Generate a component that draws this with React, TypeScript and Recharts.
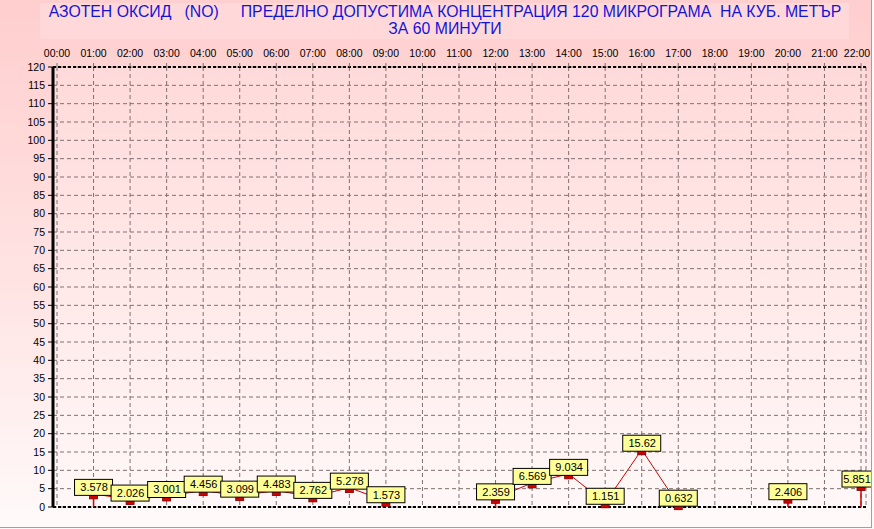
import {
  CartesianGrid,
  ErrorBar,
  LabelList,
  Line,
  LineChart,
  ReferenceLine,
  XAxis,
  YAxis,
} from "recharts";

const hourLabels = [
  "00:00", "01:00", "02:00", "03:00", "04:00", "05:00", "06:00", "07:00",
  "08:00", "09:00", "10:00", "11:00", "12:00", "13:00", "14:00", "15:00",
  "16:00", "17:00", "18:00", "19:00", "20:00", "21:00", "22:00",
];

// NO, µg/m3, hourly; null = no measurement
const noValues: (number | null)[] = [
  null, 3.578, 2.026, 3.001, 4.456, 3.099, 4.483, 2.762,
  5.278, 1.573, null, null, 2.359, 6.569, 9.034, 1.151,
  15.62, 0.632, null, null, 2.406, null, 5.851,
];

const yTicks = [
  0, 5, 10, 15, 20, 25, 30, 35, 40, 45, 50, 55, 60,
  65, 70, 75, 80, 85, 90, 95, 100, 105, 110, 115, 120,
];

// unlabeled comb on the y axis, one per unit
const yMinorTicks = Array.from({ length: 121 }, (_, i) => i);

const xTicks = hourLabels.map((_, i) => i);

// first point of every run gets a drop line down to zero
const data = hourLabels.map((label, i) => {
  const value = noValues[i];
  const prev = i > 0 ? noValues[i - 1] : null;
  return {
    hour: i,
    label,
    value,
    drop: value != null && prev == null ? [value, 0] : undefined,
  };
});

const CHART_W = 871;
const CHART_H = 527;
const font = "'Liberation Sans', Arial, sans-serif";
const TITLE_1 =
  "АЗОТЕН ОКСИД   (NO)     ПРЕДЕЛНО ДОПУСТИМА КОНЦЕНТРАЦИЯ 120 МИКРОГРАМА  НА КУБ. МЕТЪР";
const TITLE_2 = "ЗА 60 МИНУТИ";

function Marker(props: any) {
  const { cx, cy, value, index } = props;
  if (value == null || cx == null || cy == null) return <g key={index} />;
  return (
    <rect
      key={index}
      x={cx - 4}
      y={cy}
      width={8}
      height={5}
      fill="#d40000"
      stroke="#780000"
      strokeWidth={0.8}
    />
  );
}

function ValueBox(props: any) {
  const { x, y, value } = props;
  if (value == null || x == null || y == null) return null;
  const w = 38;
  const h = 16;
  const left = x - w / 2;
  // box is cut by the window edge, text stays inside what is left of it
  const right = Math.min(left + w, CHART_W);
  return (
    <g>
      <rect
        x={left}
        y={y - 14.5}
        width={w}
        height={h}
        fill="#ffff99"
        stroke="#000"
        strokeWidth={1}
      />
      <text
        x={(left + right) / 2 + 0.5}
        y={y - 2.5}
        textAnchor="middle"
        fontSize={11}
        fontFamily={font}
        fill="#000"
      >
        {String(value)}
      </text>
    </g>
  );
}

function HourTick(props: any) {
  const { x, y, payload } = props;
  const cx = Math.min(x, CHART_W - 14);
  return (
    <text x={cx} y={y} textAnchor="middle" fontSize={10.5} fontFamily={font} fill="#000">
      {hourLabels[payload.value]}
    </text>
  );
}

export default function App() {
  return (
    <div style={{ width: 874, height: 529, background: "#fafafa", position: "relative" }}>
      <style>{"body{margin:0}"}</style>
      <div
        style={{
          position: "absolute",
          left: 0,
          top: 0,
          width: CHART_W,
          height: CHART_H,
          overflow: "hidden",
          borderRight: "1px solid #a0a0a0",
          borderBottom: "1px solid #a0a0a0",
          background: "linear-gradient(to bottom, #ffcece 0%, #ffe4e4 55%, #fffafa 100%)",
        }}
      >
        <div
          style={{
            position: "absolute",
            left: 40,
            top: 3,
            width: 809,
            height: 36,
            background: "#ffd9d9",
          }}
        />
        <div
          style={{
            position: "absolute",
            left: 0,
            top: 4,
            width: 890,
            textAlign: "center",
            fontFamily: font,
            fontSize: 15.8,
            lineHeight: "16.5px",
            color: "#1414d8",
            whiteSpace: "pre",
          }}
        >
          {TITLE_1}
          <br />
          {TITLE_2}
        </div>
        <div style={{ position: "absolute", left: 0, top: 0 }}>
          <LineChart
            width={CHART_W}
            height={CHART_H}
            data={data}
            margin={{ top: 47, right: 5, bottom: 20, left: 0 }}
          >
            <defs>
              <linearGradient id="plotBg" x1="0" x2="0" y1="0" y2="1">
                <stop offset="0%" stopColor="#ffdada" />
                <stop offset="100%" stopColor="#fff8f8" />
              </linearGradient>
            </defs>
            <CartesianGrid
              stroke="#807070"
              strokeDasharray="4 3"
              fill="url(#plotBg)"
              fillOpacity={1}
            />
            <XAxis
              dataKey="hour"
              type="number"
              orientation="top"
              domain={[0, 22]}
              ticks={xTicks}
              padding={{ left: 4, right: 5 }}
              height={20}
              axisLine={false}
              tickLine={{ stroke: "#807070" }}
              tickSize={4}
              tickMargin={6}
              interval={0}
              tick={<HourTick />}
            />
            <YAxis
              yAxisId="minor"
              domain={[0, 120]}
              ticks={yMinorTicks}
              width={0}
              interval={0}
              axisLine={false}
              tickLine={{ stroke: "#000" }}
              tickSize={2}
              tick={false}
            />
            <YAxis
              domain={[0, 120]}
              ticks={yTicks}
              width={53}
              interval={0}
              axisLine={{ stroke: "#000", strokeWidth: 3 }}
              tickLine={{ stroke: "#000" }}
              tickSize={5}
              tickMargin={3}
              tick={{ fill: "#000", fontSize: 10.5, fontFamily: font }}
            />
            <YAxis
              yAxisId="frame"
              orientation="right"
              width={0}
              tick={false}
              tickLine={false}
              axisLine={{ stroke: "#000", strokeWidth: 1.5 }}
            />
            <ReferenceLine y={120} stroke="#000" strokeWidth={2} strokeDasharray="3 2" />
            <ReferenceLine y={0} stroke="#000" strokeWidth={2} strokeDasharray="3 2" />
            <Line
              dataKey="value"
              type="linear"
              stroke="#d40000"
              strokeWidth={1}
              connectNulls={false}
              dot={Marker}
              activeDot={false}
              isAnimationActive={false}
            >
              <ErrorBar
                dataKey="drop"
                direction="y"
                width={0}
                stroke="#d40000"
                strokeWidth={1.5}
                isAnimationActive={false}
              />
              <LabelList dataKey="value" content={ValueBox} />
            </Line>
          </LineChart>
        </div>
      </div>
    </div>
  );
}
